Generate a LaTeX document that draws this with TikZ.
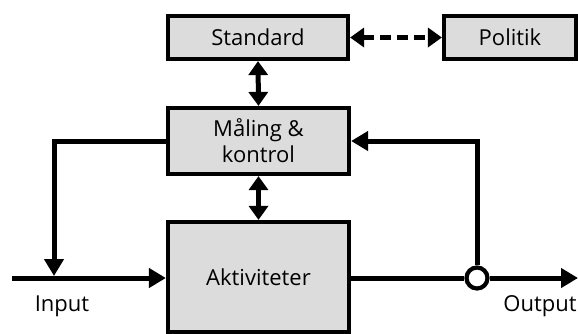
\documentclass[tikz,border=0pt]{standalone}
\usepackage{fontspec}
\setmainfont{Open Sans}
\usetikzlibrary{arrows.meta}
\definecolor{boxgray}{HTML}{DCDCDC}
\tikzset{
  blk/.style={draw=black, line width=4.2pt, fill=boxgray, inner sep=0pt,
    font=\fontsize{22}{26}\selectfont, align=center},
  flow/.style={line width=5pt, -{Triangle[length=17pt,width=19pt]}},
  both/.style={line width=5pt, {Triangle[length=14pt,width=19pt]}-{Triangle[length=14pt,width=19pt]}},
  lbl/.style={font=\fontsize{22}{26}\selectfont, inner sep=0pt}
}
\begin{document}
\begin{tikzpicture}[x=1pt,y=-1pt]
\useasboundingbox (0,0) rectangle (578,333);
\clip (0,0) rectangle (578,333);

% blocks (sizes are measured along the border's centre line)
\node[blk, minimum width=180pt, minimum height=43pt] (std)  at (258,37.5)  {Standard};
\node[blk, minimum width=132pt, minimum height=43pt] (pol)  at (510,37.5)  {Politik};
\node[blk, minimum width=181pt, minimum height=66pt] (maal) at (258.5,141) {Måling \&\\kontrol};
\node[blk, minimum width=181pt, minimum height=110pt] (akt) at (258.5,277) {Aktiviteter};

% junction on the output line
\node[draw=black, line width=4.2pt, fill=white, circle, minimum size=21pt, inner sep=0pt] (jn) at (477,278) {};

% free ends
\coordinate (inA)  at (12,278);
\coordinate (outB) at (578,278);
\coordinate (fbL)  at (54,276);

% links between blocks
\draw[both, line width=4.5pt, dash pattern=on 11pt off 6pt] (std.east) -- (pol.west);
\draw[both] (std.south) -- (maal.north);
\draw[both] (maal.south) -- (akt.north);

% input, output and feedback paths
\draw[flow] (inA) -- (akt.west |- inA);
\draw[line width=5pt] (akt.east |- jn) -- (jn.west);
\draw[flow] (jn.east) -- (outB);
\draw[flow] (jn.north) |- (maal.east);
\draw[flow] (maal.west) -| (fbL);

% labels
\node[lbl] (inlbl)  at (62,306)  {Input};
\node[lbl] (outlbl) at (540,306) {Output};
\end{tikzpicture}
\end{document}
